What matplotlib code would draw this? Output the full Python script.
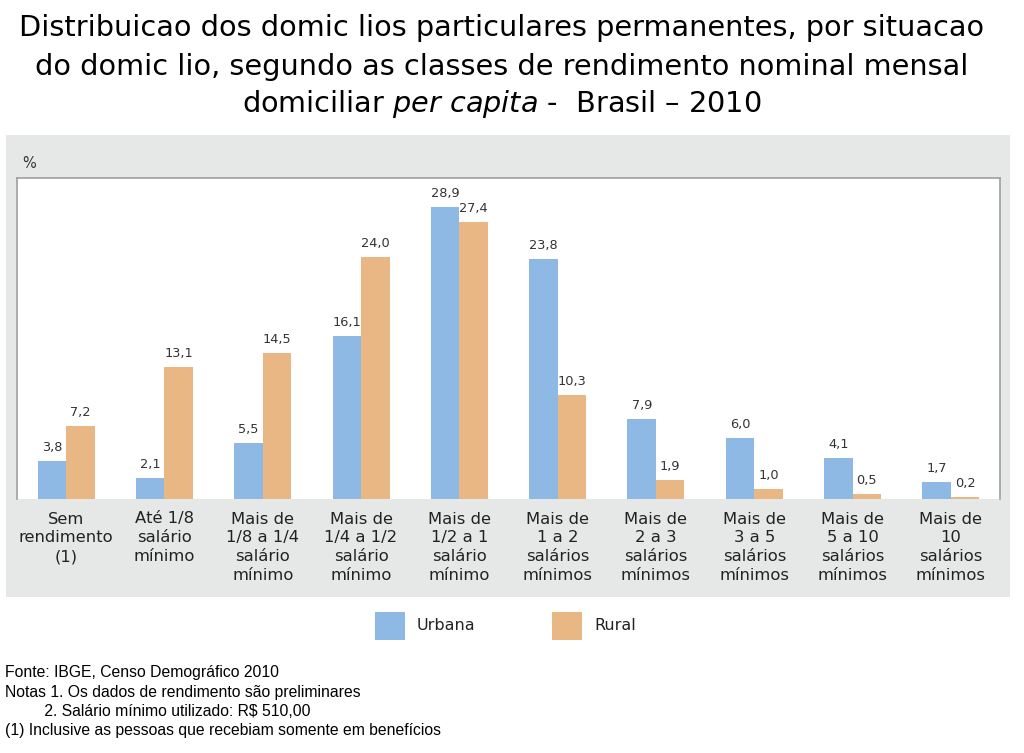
import matplotlib.pyplot as plt
from matplotlib.patches import Rectangle

categories = ['Sem\nrendimento\n(1)', 'Até 1/8\nsalário\nmínimo',
              'Mais de\n1/8 a 1/4\nsalário\nmínimo', 'Mais de\n1/4 a 1/2\nsalário\nmínimo',
              'Mais de\n1/2 a 1\nsalário\nmínimo', 'Mais de\n1 a 2\nsalários\nmínimos',
              'Mais de\n2 a 3\nsalários\nmínimos', 'Mais de\n3 a 5\nsalários\nmínimos',
              'Mais de\n5 a 10\nsalários\nmínimos', 'Mais de\n10\nsalários\nmínimos']
urbana = [3.8, 2.1, 5.5, 16.1, 28.9, 23.8, 7.9, 6.0, 4.1, 1.7]
rural = [7.2, 13.1, 14.5, 24.0, 27.4, 10.3, 1.9, 1.0, 0.5, 0.2]
series_names = ['Urbana', 'Rural']

blue = '#8DB9E4'
orange = '#E8B783'
panel = '#E6E7E7'

W, H = 1024, 753
fig = plt.figure(figsize=(W / 100, H / 100), dpi=100)

def fx(px):
    return px / W

def fy(py):
    return 1 - py / H

# grey panel behind the chart
bg = fig.add_axes([fx(6), fy(597), fx(1010) - fx(6), fy(135) - fy(597)], zorder=-1)
bg.set_facecolor(panel)
bg.set_xticks([])
bg.set_yticks([])
for s in bg.spines.values():
    s.set_visible(False)

ax = fig.add_axes([fx(17), fy(499), fx(1000) - fx(17), fy(178) - fy(499)], zorder=1)
ax.set_facecolor('white')
for s in ['top', 'left', 'right']:
    ax.spines[s].set_color('#A0A0A0')
    ax.spines[s].set_linewidth(1.2)
ax.spines['bottom'].set_visible(False)

x = list(range(len(categories)))
w = 0.29
ax.bar([i - w / 2 for i in x], urbana, width=w, color=blue, label=series_names[0])
ax.bar([i + w / 2 for i in x], rural, width=w, color=orange, label=series_names[1])

for i in x:
    ax.text(i - w / 2, urbana[i] + 0.7, f'{urbana[i]:.1f}'.replace('.', ','),
            ha='center', va='bottom', fontsize=9.3, color='#333333')
    ax.text(i + w / 2, rural[i] + 0.7, f'{rural[i]:.1f}'.replace('.', ','),
            ha='center', va='bottom', fontsize=9.3, color='#333333')

ax.set_xlim(-0.5, len(categories) - 0.5)
ax.set_ylim(0, 31.8)
ax.set_yticks([])
ax.set_xticks(x)
ax.set_xticklabels(categories, fontsize=11.8, color='#222222', linespacing=1.33)
ax.tick_params(axis='x', length=0, pad=9)

fig.text(fx(22), fy(163), '%', fontsize=10.5, color='#333333', va='center')

# title
fig.text(0.49, fy(28), 'Distribuicao dos domic lios particulares permanentes, por situacao',
         ha='center', va='center', fontsize=20.7)
fig.text(0.49, fy(67), 'do domic lio, segundo as classes de rendimento nominal mensal',
         ha='center', va='center', fontsize=20.7)
fig.text(0.49, fy(104), r'domiciliar $\it{per\ capita}$ -  Brasil – 2010',
         ha='center', va='center', fontsize=20.7)

# legend
for px, name, col in [(375, series_names[0], blue), (552, series_names[1], orange)]:
    fig.patches.append(Rectangle((fx(px), fy(640)), fx(30), fy(612) - fy(640),
                                 transform=fig.transFigure, facecolor=col, edgecolor='none'))
    fig.text(fx(px + 42), fy(626), name, fontsize=11.5, va='center', color='#222222')

notes = ['Fonte: IBGE, Censo Demográfico 2010',
         'Notas 1. Os dados de rendimento são preliminares',
         '         2. Salário mínimo utilizado: R$ 510,00',
         '(1) Inclusive as pessoas que recebiam somente em benefícios']
for k, line in enumerate(notes):
    fig.text(fx(5), fy(673 + 19 * k), line, fontsize=11.3, va='center',
             family=['Liberation Sans', 'DejaVu Sans'])

fig.savefig('out.png', dpi=100)
